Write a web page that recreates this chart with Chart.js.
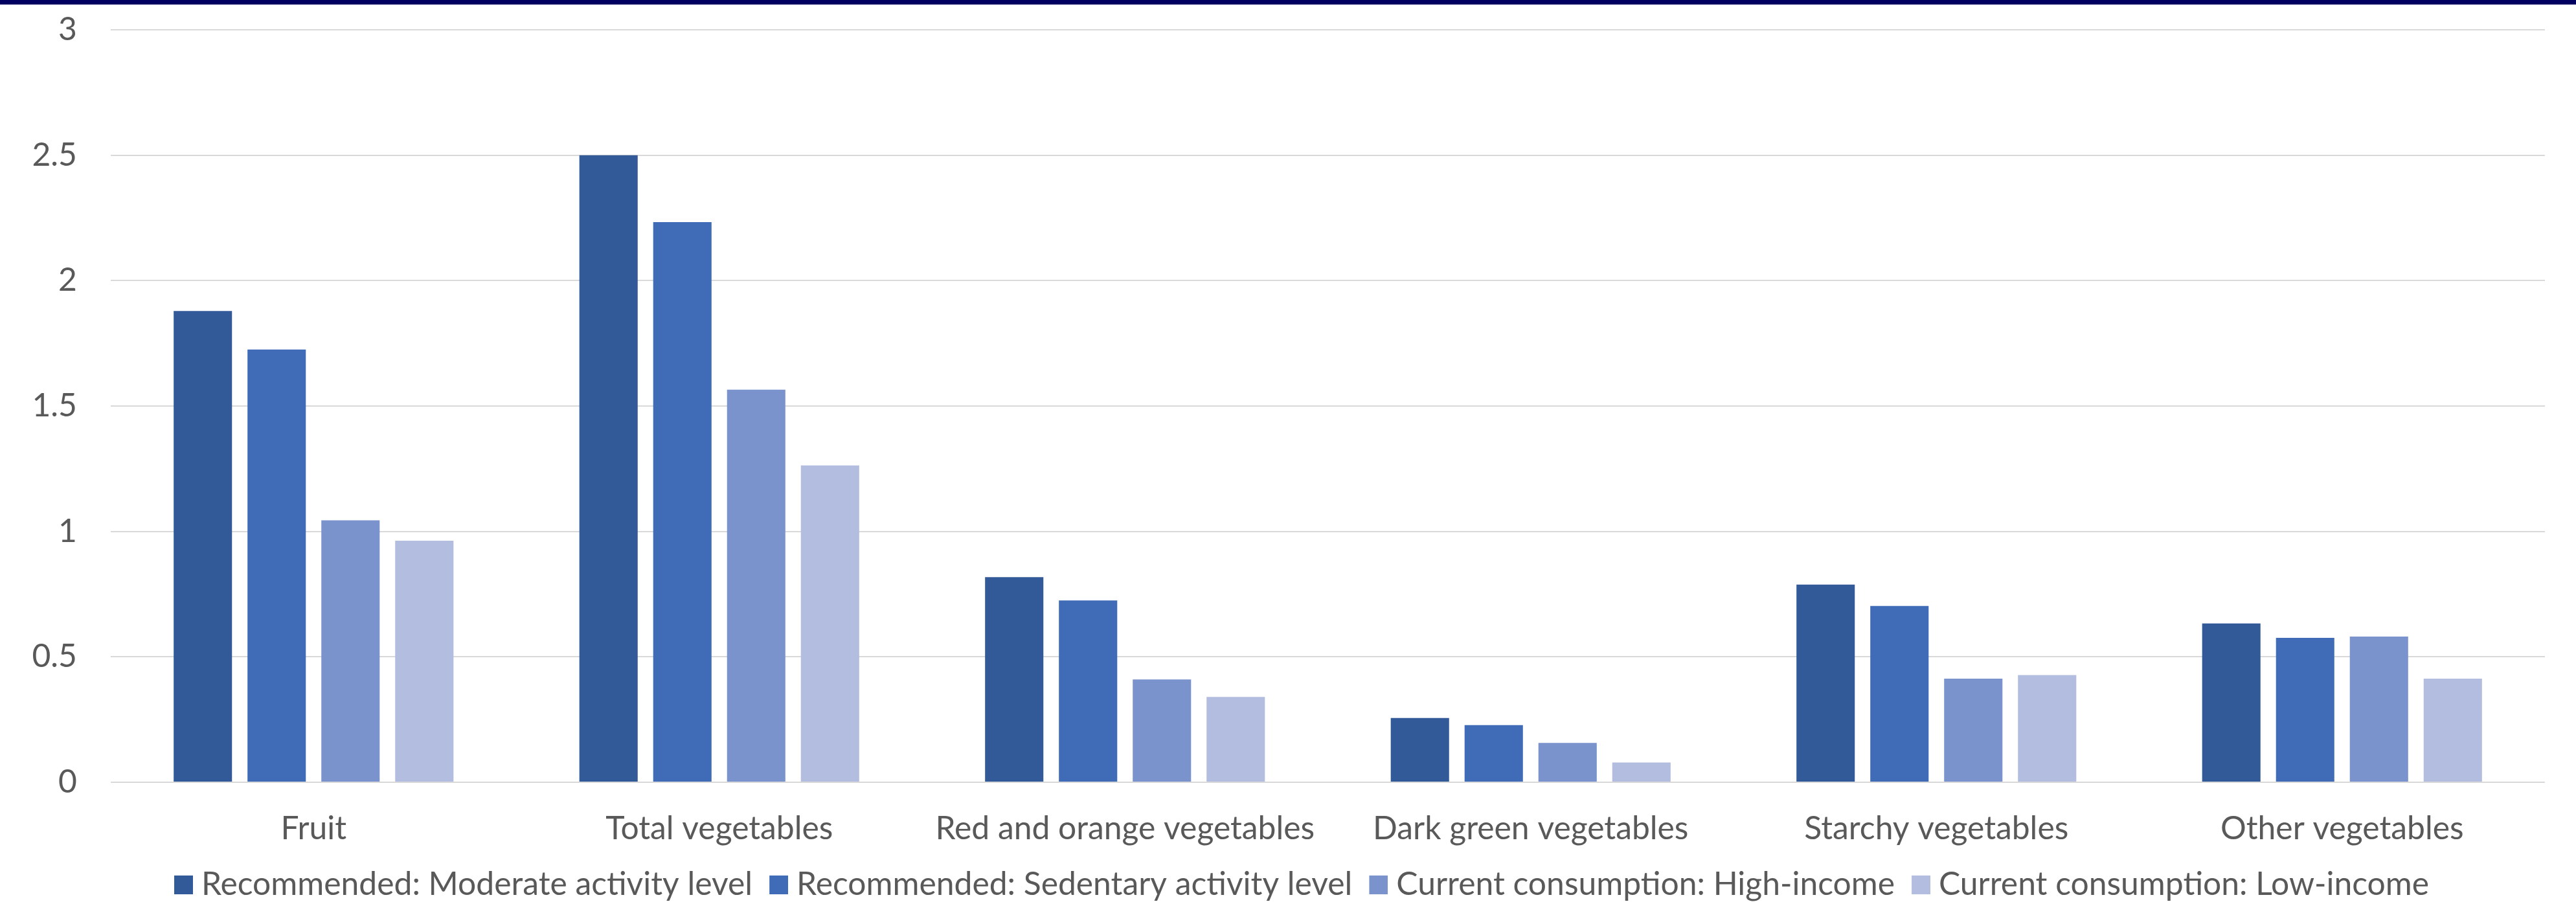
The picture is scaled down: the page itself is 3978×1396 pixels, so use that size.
<!DOCTYPE html>
<html>
<head>
<meta charset="utf-8">
<script src="https://cdn.jsdelivr.net/npm/chart.js@4.4.1/dist/chart.umd.min.js"></script>
<style>
html,body{margin:0;padding:0;background:#fff;}
#wrap{position:relative;width:3978px;height:1396px;overflow:hidden;background:#fff;}
canvas{display:block;}
</style>
</head>
<body>
<div id="wrap"><canvas id="c" width="3978" height="1396"></canvas></div>
<script>
// ---- data ----
const categories = ['Fruit', 'Total vegetables', 'Red and orange vegetables', 'Dark green vegetables', 'Starchy vegetables', 'Other vegetables'];
const seriesNames = ['Recommended: Moderate activity level', 'Recommended: Sedentary activity level', 'Current consumption: High-income', 'Current consumption: Low-income'];
const moderate   = [1.879, 2.50, 0.818, 0.256, 0.788, 0.633];
const sedentary  = [1.725, 2.233, 0.725, 0.228, 0.703, 0.576];
const highIncome = [1.044, 1.565, 0.410, 0.157, 0.413, 0.581];
const lowIncome  = [0.963, 1.263, 0.340, 0.079, 0.427, 0.413];
const yTickValues = [0, 0.5, 1, 1.5, 2, 2.5, 3];

// ---- styles ----
const seriesColors = ['#335A98', '#3F6BB7', '#7A93CD', '#B2BDDF'];
const FONT = 'Lato, "Open Sans", sans-serif';
const TEXT = '#595959';

const m = document.createElement('canvas').getContext('2d');
m.font = '100px ' + FONT;
const fs = Math.round(100 * 852 / m.measureText(seriesNames[0]).width * 10) / 10;

const P = 26;                       // legend padding (gap between items)
const legendCenter = 1366;
const B = 1396 - legendCenter - 10 - fs / 2;
const plotBottom = 1208;
const xLabelCenter = 1280;
const legendShift = 45;

// legend swatch: 29px square, text 13px after it
const SQ = 29, GAP = 13;
const swatchBoxWidth = SQ + GAP - fs / 2;
function makeSwatch(color) {
  const w = Math.round(2 * SQ - swatchBoxWidth);
  const c = document.createElement('canvas');
  c.width = w; c.height = SQ;
  const g = c.getContext('2d');
  g.fillStyle = color;
  g.fillRect(w - SQ, 0, SQ, SQ);
  return c;
}
const swatches = seriesColors.map(makeSwatch);

const frame = {
  id: 'frame',
  afterLayout(chart) {
    if (chart.legend) {
      chart.legend.left += legendShift;
      chart.legend.right += legendShift;
    }
  },
  beforeDraw(chart) {
    const ctx = chart.ctx;
    ctx.save();
    ctx.fillStyle = '#ffffff';
    ctx.fillRect(0, 0, chart.width, chart.height);
    ctx.fillStyle = '#000060';
    ctx.fillRect(0, 0, chart.width, 7);
    ctx.restore();
  }
};

const allSeries = [moderate, sedentary, highIncome, lowIncome];

new Chart(document.getElementById('c'), {
  type: 'bar',
  data: {
    labels: categories,
    datasets: allSeries.map((d, i) => ({
      label: seriesNames[i],
      data: d,
      backgroundColor: seriesColors[i],
      borderWidth: 0,
      barPercentage: 0.79,
      categoryPercentage: 0.728
    }))
  },
  options: {
    responsive: false,
    animation: false,
    devicePixelRatio: 1,
    layout: { padding: { left: 0, right: 48, top: 46, bottom: B } },
    plugins: {
      legend: {
        position: 'bottom',
        labels: {
          usePointStyle: true,
          pointStyleWidth: swatchBoxWidth,
          boxHeight: SQ, padding: P,
          color: TEXT, font: { family: FONT, size: fs },
          generateLabels(chart) {
            const items = Chart.defaults.plugins.legend.labels.generateLabels(chart);
            items.forEach((it, i) => { it.pointStyle = swatches[i]; it.lineWidth = 0; });
            return items;
          }
        }
      },
      tooltip: { enabled: false }
    },
    scales: {
      x: {
        grid: { display: false, drawTicks: false },
        border: { display: false },
        ticks: {
          color: TEXT, font: { family: FONT, size: fs },
          padding: xLabelCenter - plotBottom - 0.6 * fs,
          maxRotation: 0, minRotation: 0, autoSkip: false
        },
        afterFit(s) {
          const lg = s.chart.legend;
          const lh = lg && lg.height ? lg.height : (fs + P + 10);
          s.height = (1396 - B - lh) - plotBottom;
        }
      },
      y: {
        min: 0, max: 3,
        afterBuildTicks(s) { s.ticks = yTickValues.map(v => ({ value: v })); },
        ticks: {
          color: TEXT, font: { family: FONT, size: fs }, padding: 0,
          callback: v => String(v)
        },
        grid: { color: '#D9D9D9', lineWidth: 2, drawTicks: true, tickLength: 52, tickColor: 'rgba(0,0,0,0)' },
        border: { display: false },
        afterFit(s) { s.width = 171; }
      }
    }
  },
  plugins: [frame]
});
</script>
</body>
</html>
